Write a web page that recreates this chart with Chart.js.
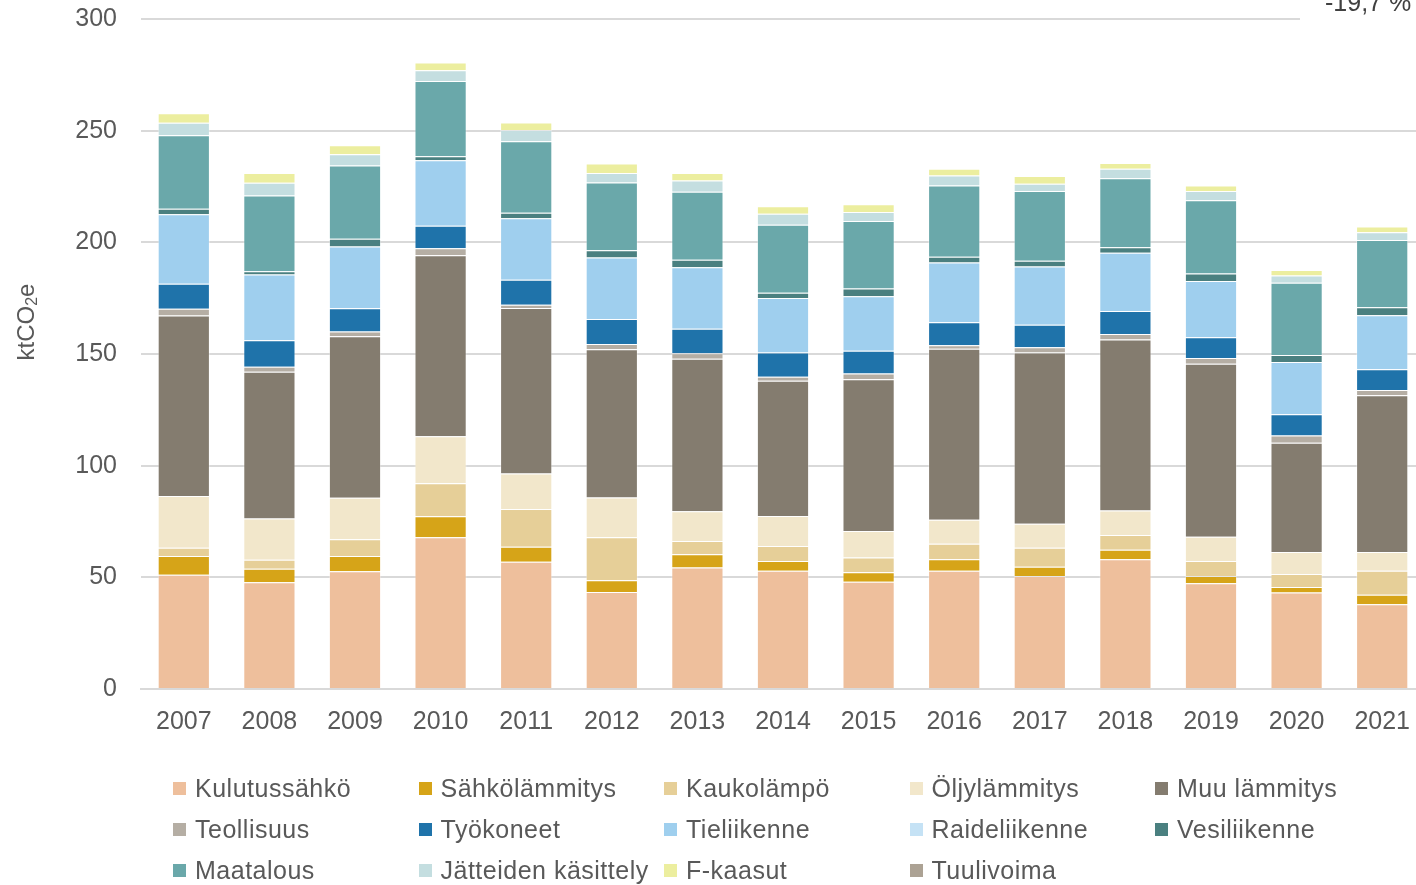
<!DOCTYPE html>
<html lang="fi">
<head>
<meta charset="utf-8">
<title>Päästöt sektoreittain</title>
<script src="https://cdn.jsdelivr.net/npm/chart.js@4/dist/chart.umd.min.js"></script>
<style>
  html, body { margin: 0; padding: 0; background: #fff; }
  #wrap { position: relative; width: 1416px; height: 885px; overflow: hidden; }
  #chart { position: absolute; left: 0; top: 0; }
  #legend { position: absolute; left: 0; top: 0; width: 1416px; height: 885px; pointer-events: none; }
  .item { position: absolute; display: flex; align-items: center; height: 26px; letter-spacing: 0.5px;
          font: 25px "Liberation Sans", Arial, sans-serif; color: #595959; white-space: nowrap; }
  .box { width: 13px; height: 13px; margin-right: 9px; }
</style>
</head>
<body>
<div id="wrap">
  <canvas id="chart" width="1430" height="885"></canvas>
  <div id="legend"></div>
</div>
<script>
const years = ['2007', '2008', '2009', '2010', '2011', '2012', '2013', '2014', '2015', '2016', '2017', '2018', '2019', '2020', '2021']

const kulutussahko = [51.2, 47.8, 52.7, 67.9, 57.0, 43.4, 54.4, 53.0, 48.0, 53.0, 50.6, 58.1, 47.4, 43.2, 38.0]
const sahkolammitys = [8.4, 6.0, 6.9, 9.4, 6.7, 5.3, 5.9, 4.3, 4.3, 5.1, 4.1, 4.2, 3.2, 2.5, 4.2]
const kaukolampo = [3.7, 4.1, 7.4, 14.8, 16.9, 19.3, 6.0, 6.7, 6.6, 6.9, 8.5, 6.7, 6.7, 5.8, 10.8]
const oljylammitys = [23.1, 18.4, 18.6, 21.1, 15.9, 17.7, 13.3, 13.5, 11.9, 10.8, 10.8, 10.9, 10.9, 9.8, 8.3]
const muuLammitys = [80.8, 65.7, 72.3, 81.0, 74.1, 66.4, 68.3, 60.5, 67.9, 76.5, 76.7, 76.6, 77.4, 49.0, 70.2]
const teollisuus = [3.1, 2.3, 2.2, 3.1, 1.5, 2.4, 2.4, 1.8, 2.6, 1.6, 2.3, 2.4, 2.6, 3.2, 2.4]
const tyokoneet = [11.2, 11.9, 10.4, 10.1, 11.1, 11.2, 11.0, 10.9, 10.1, 10.3, 10.1, 10.3, 9.3, 9.5, 9.3]
const tieliikenne = [31.1, 29.4, 27.6, 29.4, 27.6, 27.5, 27.5, 24.4, 24.5, 26.8, 26.1, 26.1, 25.2, 23.4, 24.2]
const raideliikenne = [0, 0, 0, 0, 0, 0, 0, 0, 0, 0, 0, 0, 0, 0, 0]
const vesiliikenne = [2.4, 1.5, 3.5, 1.8, 2.5, 3.2, 3.4, 2.3, 3.4, 2.6, 2.5, 2.5, 3.3, 3.2, 3.5]
const maatalous = [33.0, 33.9, 32.8, 33.6, 32.0, 30.4, 30.4, 30.5, 30.2, 31.9, 31.3, 30.9, 32.8, 32.3, 30.2]
const jatteidenKasittely = [5.5, 5.7, 5.0, 4.8, 5.0, 4.3, 5.1, 4.9, 4.1, 4.4, 3.2, 4.2, 4.2, 3.2, 3.4]
const fKaasut = [4.3, 4.3, 4.1, 3.5, 3.4, 4.2, 3.4, 3.4, 3.4, 3.0, 3.5, 2.6, 2.5, 2.5, 2.6]
const tuulivoima = [0, 0, 0, 0, 0, 0, 0, 0, 0, 0, 0, 0, 0, 0, 0]

const yTicks = [0, 50, 100, 150, 200, 250, 300]
const changeLabel = '-19,7 %'

const FONT = '"Liberation Sans", Arial, sans-serif'
const TEXT = '#595959'

// order = stacking order from the bottom, legend goes row by row
const series = [
  { label: 'Kulutussähkö', data: kulutussahko, color: '#EEBF9C' },
  { label: 'Sähkölämmitys', data: sahkolammitys, color: '#D6A418' },
  { label: 'Kaukolämpö', data: kaukolampo, color: '#E6CF98' },
  { label: 'Öljylämmitys', data: oljylammitys, color: '#F2E7CB' },
  { label: 'Muu lämmitys', data: muuLammitys, color: '#847C6F' },
  { label: 'Teollisuus', data: teollisuus, color: '#B5AEA4' },
  { label: 'Työkoneet', data: tyokoneet, color: '#1F73AA' },
  { label: 'Tieliikenne', data: tieliikenne, color: '#9FCFEE' },
  { label: 'Raideliikenne', data: raideliikenne, color: '#C5E2F5' },
  { label: 'Vesiliikenne', data: vesiliikenne, color: '#4A8080' },
  { label: 'Maatalous', data: maatalous, color: '#6AA8AA' },
  { label: 'Jätteiden käsittely', data: jatteidenKasittely, color: '#C4DEE0' },
  { label: 'F-kaasut', data: fKaasut, color: '#ECEE9F' },
  { label: 'Tuulivoima', data: tuulivoima, color: '#ACA294' }
]

// y-axis title with a real subscript, and the cut-off change note in the corner
const extrasPlugin = {
  id: 'extras',
  afterDraw(chart) {
    const ctx = chart.ctx
    ctx.save()
    ctx.translate(27, 322)
    ctx.rotate(-Math.PI / 2)
    ctx.fillStyle = TEXT
    ctx.textBaseline = 'middle'
    ctx.textAlign = 'left'
    ctx.font = '24px ' + FONT
    const wa = ctx.measureText('ktCO').width
    const wb = ctx.measureText('e').width
    ctx.font = '16px ' + FONT
    const ws = ctx.measureText('2').width
    let x = -(wa + ws + wb) / 2
    ctx.font = '24px ' + FONT
    ctx.fillText('ktCO', x, 0)
    x += wa
    ctx.font = '16px ' + FONT
    ctx.fillText('2', x, 6)
    x += ws
    ctx.font = '24px ' + FONT
    ctx.fillText('e', x, 0)
    ctx.restore()

    ctx.save()
    ctx.fillStyle = '#fff'
    ctx.fillRect(1300, 0, 130, 30)
    ctx.fillStyle = '#404040'
    ctx.font = '25px ' + FONT
    ctx.textAlign = 'left'
    ctx.textBaseline = 'alphabetic'
    ctx.fillText(changeLabel, 1325, 11)
    ctx.restore()
  }
}

const chart = new Chart(document.getElementById('chart'), {
  type: 'bar',
  data: {
    labels: years,
    datasets: series.map(s => ({
      label: s.label,
      data: s.data,
      backgroundColor: s.color,
      borderColor: 'rgba(255,255,255,0.35)',
      borderWidth: s.data.some(v => v > 0) ? 1 : 0,
      barPercentage: 0.61,
      categoryPercentage: 1
    }))
  },
  options: {
    responsive: false,
    animation: false,
    layout: { padding: { left: 0, top: 19, right: 5, bottom: 146 } },
    plugins: {
      legend: { display: false },
      tooltip: { enabled: false }
    },
    scales: {
      x: {
        stacked: true,
        grid: { display: false, drawTicks: false },
        border: { display: true, color: '#D9D9D9', width: 2 },
        ticks: { color: TEXT, font: { family: FONT, size: 25 }, padding: 18, maxRotation: 0 },
        afterFit: scale => { scale.height = 50 }
      },
      y: {
        stacked: true,
        min: 0,
        max: 300,
        afterBuildTicks: scale => { scale.ticks = yTicks.map(v => ({ value: v })) },
        grid: { color: '#D9D9D9', lineWidth: 2, drawTicks: false },
        border: { display: false },
        ticks: { color: TEXT, font: { family: FONT, size: 25 }, padding: 24 },
        afterFit: scale => {
          scale.width = 141
          scale.paddingTop = 0
          scale.paddingBottom = 0
        }
      }
    }
  },
  plugins: [extrasPlugin]
})

// legend in a fixed 5-column grid, built from the chart's datasets
const legend = document.getElementById('legend')
chart.data.datasets.forEach((ds, i) => {
  const col = i % 5
  const row = Math.floor(i / 5)
  const item = document.createElement('div')
  item.className = 'item'
  item.style.left = (173 + col * 245.5) + 'px'
  item.style.top = (788 + row * 41 - 13) + 'px'
  const box = document.createElement('span')
  box.className = 'box'
  box.style.background = ds.backgroundColor
  item.appendChild(box)
  item.appendChild(document.createTextNode(ds.label))
  legend.appendChild(item)
})
</script>
</body>
</html>
